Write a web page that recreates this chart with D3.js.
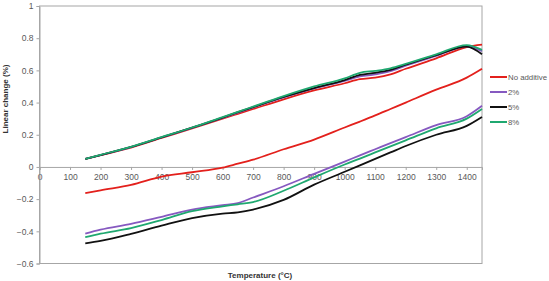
<!DOCTYPE html>
<html><head><meta charset="utf-8">
<script src="https://cdn.jsdelivr.net/npm/d3@7"></script>
<style>body{margin:0;background:#fff}svg{display:block}text{font-family:"Liberation Sans",Arial,sans-serif}</style>
</head><body><svg id="c" width="549" height="281"></svg>
<script>
const temps = [150,200,300,400,500,600,650,700,800,900,1000,1050,1100,1150,1200,1300,1400,1450];
const seriesNames = ["No additive","2%","5%","8%"];
const colors = ["#e3201c","#8659c0","#111111","#1fa870"];
// upper group values
const upperRed    = [0.05,0.073,0.12,0.18,0.24,0.30,0.33,0.36,0.42,0.475,0.52,0.545,0.555,0.575,0.61,0.675,0.745,0.76];
const upperPurple = [0.05,0.074,0.123,0.183,0.243,0.305,0.337,0.37,0.432,0.488,0.535,0.562,0.575,0.595,0.63,0.69,0.75,0.72];
const upperBlack  = [0.05,0.074,0.124,0.184,0.244,0.307,0.34,0.372,0.435,0.49,0.54,0.572,0.585,0.603,0.635,0.695,0.748,0.70];
const upperGreen  = [0.05,0.075,0.125,0.185,0.245,0.31,0.342,0.375,0.44,0.50,0.55,0.585,0.597,0.613,0.64,0.70,0.757,0.727];
// lower group values
const lowerRed    = [-0.163,-0.145,-0.112,-0.06,-0.033,-0.005,0.02,0.045,0.11,0.17,0.245,0.282,0.32,0.36,0.40,0.48,0.555,0.61];
const lowerPurple = [-0.415,-0.39,-0.354,-0.31,-0.265,-0.238,-0.225,-0.19,-0.12,-0.043,0.033,0.072,0.11,0.148,0.185,0.26,0.315,0.38];
const lowerBlack  = [-0.475,-0.46,-0.416,-0.365,-0.318,-0.29,-0.282,-0.265,-0.205,-0.11,-0.03,0.01,0.05,0.09,0.13,0.20,0.255,0.31];
const lowerGreen  = [-0.437,-0.415,-0.38,-0.33,-0.275,-0.245,-0.232,-0.218,-0.148,-0.065,0.015,0.052,0.09,0.128,0.165,0.24,0.30,0.36];
const xTicks = [0,100,200,300,400,500,600,700,800,900,1000,1100,1200,1300,1400];
const yTicks = [-0.6,-0.4,-0.2,0,0.2,0.4,0.6,0.8,1];
const xTitle = "Temperature (°C)";
const yTitle = "Linear change (%)";

const uppers = [upperRed,upperPurple,upperBlack,upperGreen];
const lowers = [lowerRed,lowerPurple,lowerBlack,lowerGreen];

const svg = d3.select("#c");
const L=39.5, R=482, T=6, B=263.5;
const x = d3.scaleLinear().domain([0,1450]).range([L,R]);
const y = d3.scaleLinear().domain([-0.6,1]).range([B,T]);
const grey="#a6a6a6", txt="#595959";

svg.append("rect").attr("x",L).attr("y",T).attr("width",R-L).attr("height",B-T)
  .attr("fill","none").attr("stroke",grey).attr("stroke-width",1);

const xa = svg.append("g").attr("transform",`translate(0,${y(0)})`)
  .call(d3.axisBottom(x).tickValues(xTicks).tickSize(3).tickPadding(4).tickFormat(d3.format("d")));
xa.select(".domain").attr("stroke",grey);
xa.selectAll(".tick line").attr("stroke",grey);
xa.selectAll("text").attr("fill",txt).attr("font-size",8.5);

const ya = svg.append("g").attr("transform",`translate(${L},0)`)
  .call(d3.axisLeft(y).tickValues(yTicks).tickSize(3).tickPadding(3).tickFormat(d=>d3.format("")(+d.toFixed(1))));
ya.select(".domain").attr("stroke",grey);
ya.selectAll(".tick line").attr("stroke",grey);
ya.selectAll("text").attr("fill",txt).attr("font-size",8.5);

const line = d3.line().x((d,i)=>x(temps[i])).y(d=>y(d)).curve(d3.curveMonotoneX);
[0,1,2,3].forEach(k=>{
  svg.append("path").attr("d",line(lowers[k])).attr("fill","none").attr("stroke",colors[k]).attr("stroke-width",1.8).attr("stroke-linejoin","round");
});
[0,1,2,3].forEach(k=>{
  svg.append("path").attr("d",line(uppers[k])).attr("fill","none").attr("stroke",colors[k]).attr("stroke-width",1.8).attr("stroke-linejoin","round");
});

const lg = svg.append("g");
seriesNames.forEach((n,i)=>{
  const yy = 77 + i*15;
  lg.append("line").attr("x1",490).attr("x2",507).attr("y1",yy).attr("y2",yy).attr("stroke",colors[i]).attr("stroke-width",2);
  lg.append("text").attr("x",508).attr("y",yy+3).attr("font-size",7.8).attr("fill",txt).text(n);
});

svg.append("text").attr("x",260).attr("y",278).attr("text-anchor","middle").attr("font-size",8).attr("font-weight","bold").attr("fill","#333").text(xTitle);
svg.append("text").attr("transform","translate(8,99) rotate(-90)").attr("text-anchor","middle").attr("font-size",8).attr("font-weight","bold").attr("fill","#333").text(yTitle);
</script></body></html>
